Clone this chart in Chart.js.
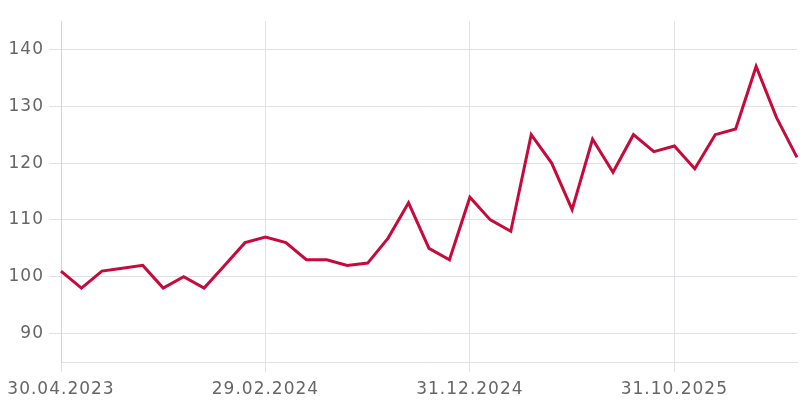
<!DOCTYPE html>
<html lang="de">
<head>
  <meta charset="UTF-8">
  <title>Indexverlauf</title>
  <script src="https://cdn.jsdelivr.net/npm/chart.js@4.4.1/dist/chart.umd.min.js"></script>
  <style>
    body { margin: 0; background: #fff; }
    .wrap { width: 805px; height: 414px; position: relative; }
  </style>
</head>
<body>
  <div class="wrap">
    <canvas id="indexChart"></canvas>
  </div>

  <script>
    // --- Daten (Monatsende) ---
    const labels = [
      '30.04.2023', '31.05.2023', '30.06.2023', '31.07.2023', '31.08.2023', '30.09.2023',
      '31.10.2023', '30.11.2023', '31.12.2023', '31.01.2024', '29.02.2024', '31.03.2024',
      '30.04.2024', '31.05.2024', '30.06.2024', '31.07.2024', '31.08.2024', '30.09.2024',
      '31.10.2024', '30.11.2024', '31.12.2024', '31.01.2025', '28.02.2025', '31.03.2025',
      '30.04.2025', '31.05.2025', '30.06.2025', '31.07.2025', '31.08.2025', '30.09.2025',
      '31.10.2025', '30.11.2025', '31.12.2025', '31.01.2026', '28.02.2026', '31.03.2026',
      '30.04.2026'
    ];
    const werte = [
      101, 98, 101, 101.5, 102, 98, 100, 98, 102, 106, 107, 106,
      103, 103, 102, 102.4, 106.8, 113, 105, 103, 114, 110, 108, 125,
      120, 111.8, 124.2, 118.4, 125, 122, 123, 119, 125, 126, 137, 128,
      121
    ];
    // welche Datumslabels unten angezeigt werden (Index in labels)
    const xTickIndex = [0, 10, 20, 30];
    const yTicks = [90, 100, 110, 120, 130, 140];

    const textFarbe = '#666666';
    const gitterFarbe = '#dfe1e4';
    const schrift = { family: "'DejaVu Sans', sans-serif", size: 17 };

    // kleiner Plugin-Hack: etwas Buchstabenabstand wie im Original
    const letterSpacingPlugin = {
      id: 'letterSpacing',
      beforeDraw(chart) { chart.ctx.letterSpacing = '1px'; }
    };

    const ctx = document.getElementById('indexChart').getContext('2d');
    new Chart(ctx, {
      type: 'line',
      data: {
        labels: labels,
        datasets: [{
          data: werte,
          borderColor: '#c70a3c',
          borderWidth: 3,
          pointRadius: 0,
          tension: 0,
          fill: false
        }]
      },
      options: {
        responsive: true,
        maintainAspectRatio: false,
        animation: false,
        layout: { padding: { top: 21, right: 8, left: 0, bottom: 0 } },
        plugins: {
          legend: { display: false },
          tooltip: { enabled: false }
        },
        scales: {
          x: {
            offset: false,
            afterBuildTicks: (scale) => {
              scale.ticks = xTickIndex.map(i => ({ value: i }));
            },
            afterFit: (scale) => { scale.height = 52; },
            ticks: {
              autoSkip: false,
              maxRotation: 0,
              padding: 7,
              color: textFarbe,
              font: schrift
            },
            grid: {
              color: gitterFarbe,
              tickLength: 10,
              drawOnChartArea: true
            },
            border: { color: gitterFarbe }
          },
          y: {
            min: 85,
            max: 145,
            afterBuildTicks: (scale) => {
              scale.ticks = yTicks.map(v => ({ value: v }));
            },
            afterFit: (scale) => { scale.width = 61; },
            ticks: {
              padding: 5,
              color: textFarbe,
              font: schrift
            },
            grid: {
              color: gitterFarbe,
              tickLength: 12
            },
            border: { color: '#d4d4d4' }
          }
        }
      },
      plugins: [letterSpacingPlugin]
    });
  </script>
</body>
</html>
